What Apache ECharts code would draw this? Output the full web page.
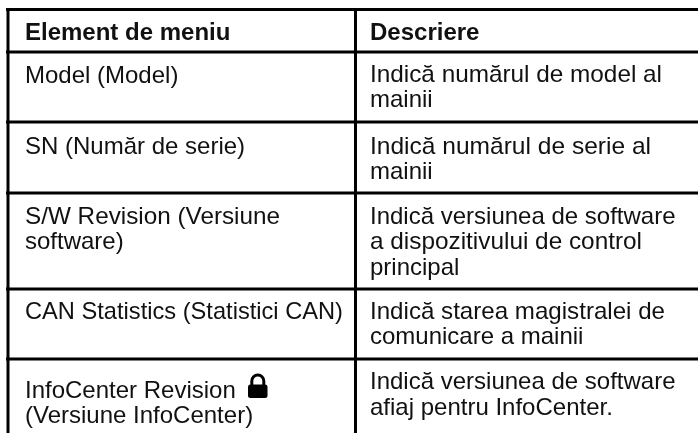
<!DOCTYPE html>
<html>
<head>
<meta charset="utf-8">
<style>html,body{margin:0;padding:0;background:#fff}#main{width:698px;height:433px}</style>
<script src="https://cdn.jsdelivr.net/npm/echarts@6/dist/echarts.min.js"></script>
</head>
<body>
<div id="main"></div>
<script>
var headers = ['Element de meniu', 'Descriere'];
var menuItems = [
  ['Model (Model)'],
  ['SN (Număr de serie)'],
  ['S/W Revision (Versiune', 'software)'],
  ['CAN Statistics (Statistici CAN)'],
  ['InfoCenter Revision', '(Versiune InfoCenter)']
];
var descriptions = [
  ['Indică numărul de model al', 'mainii'],
  ['Indică numărul de serie al', 'mainii'],
  ['Indică versiunea de software', 'a dispozitivului de control', 'principal'],
  ['Indică starea magistralei de', 'comunicare a mainii'],
  ['Indică versiunea de software', 'afiaj pentru InfoCenter.']
];

// pozitii tabel
var ruleY = [9.5, 52, 122, 193, 289, 359];
var colX = [8, 355.5];
var textX = [25, 370];
var firstLine = [83.5, 154, 224, 319, 398];
var firstLineDesc = [82, 154, 224, 319, 389.5];
var lineH = 25.7;
var fontFamily = '"Liberation Sans", Arial, sans-serif';

// latimi, pe randurile unde textul e mai lat/ingust decat fontul
var lineWidth = {
  'S/W Revision (Versiune': 255,
  'CAN Statistics (Statistici CAN)': 318,
  'Indică numărul de model al': 292,
  'Indică numărul de serie al': 281,
  'a dispozitivului de control': 272,
  'Indică starea magistralei de': 295
};

var measure = document.createElement('canvas').getContext('2d');

function line(x1, y1, x2, y2) {
  return {type: 'line', shape: {x1: x1, y1: y1, x2: x2, y2: y2}, style: {stroke: '#000', lineWidth: 3}};
}
function label(str, x, baseline, bold) {
  var font = (bold ? 'bold ' : '') + '24px ' + fontFamily;
  measure.font = font;
  var sx = lineWidth[str] ? lineWidth[str] / measure.measureText(str).width : 1;
  return {type: 'text', x: x, y: baseline + 5, scaleX: sx, style: {
    text: str, fill: '#111', verticalAlign: 'bottom', font: font
  }};
}

var els = [];
ruleY.forEach(function (y) { els.push(line(6, y, 698, y)); });
colX.forEach(function (x) { els.push(line(x, 8, x, 433)); });
els.push(label(headers[0], textX[0], 40, true));
els.push(label(headers[1], textX[1], 40, true));
menuItems.forEach(function (rows, i) {
  rows.forEach(function (s, k) { els.push(label(s, textX[0], firstLine[i] + k * lineH)); });
});
descriptions.forEach(function (rows, i) {
  rows.forEach(function (s, k) { els.push(label(s, textX[1], firstLineDesc[i] + k * lineH)); });
});
// lacat
els.push({type: 'rect', shape: {x: 248, y: 384.5, width: 19.5, height: 13.5, r: 2.5}, style: {fill: '#000'}});
els.push({type: 'arc', shape: {cx: 257.8, cy: 381, r: 6, startAngle: Math.PI, endAngle: 2 * Math.PI}, style: {fill: 'none', stroke: '#000', lineWidth: 3}});
els.push(line(251.8, 381, 251.8, 386));
els.push(line(263.8, 381, 263.8, 386));

var chart = echarts.init(document.getElementById('main'));
chart.setOption({animation: false, backgroundColor: '#fff', graphic: {elements: els}});
</script>
</body>
</html>
